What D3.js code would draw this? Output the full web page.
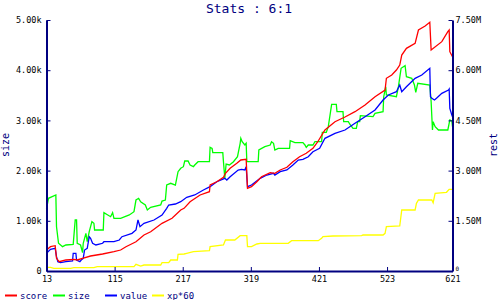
<!DOCTYPE html>
<html>
<head>
<meta charset="utf-8">
<script src="https://cdn.jsdelivr.net/npm/d3@7"></script>
<style>
body { margin: 0; background: #fff; }
svg { display: block; }
text { font-family: "DejaVu Sans Mono", monospace; }
</style>
</head>
<body>
<svg id="chart" width="500" height="300"></svg>
<script>
// tick values
var xTicks = [13, 115, 217, 319, 421, 523, 621];
var sizeTicks = [0, 1000, 2000, 3000, 4000, 5000];
var restTicks = [0, 1.5, 3, 4.5, 6, 7.5]; // millions

var seriesNames = ["score", "size", "value", "xp*60"];
var seriesColors = ["#ff0000", "#00ff00", "#0000ff", "#ffff00"];

// size (left axis)
var sizeData = [[13,1235],[16,1448],[27,1514],[28,882],[31,552],[37,484],[42,518],[53,532],[56,1016],[58,1016],[59,552],[64,518],[67,365],[68,552],[72,751],[74,584],[77,783],[81,982],[84,950],[85,817],[98,817],[99,1161],[109,1082],[112,1161],[114,1050],[124,1050],[137,1116],[144,1181],[147,1414],[151,1448],[154,1380],[161,1315],[164,1215],[169,1269],[184,1315],[186,1394],[191,1414],[193,1713],[199,1747],[206,1713],[210,1978],[214,2046],[218,2078],[220,2191],[225,2191],[228,2112],[233,2078],[235,2112],[240,2177],[257,2177],[258,2464],[261,2444],[262,2357],[277,2357],[278,2177],[280,1847],[282,2131],[287,2112],[293,2177],[299,2277],[303,2544],[304,2643],[306,2576],[310,2510],[312,2544],[313,2177],[330,2177],[331,2410],[340,2476],[348,2510],[350,2576],[353,2544],[355,2410],[360,2444],[377,2444],[378,2596],[385,2556],[397,2556],[400,2510],[402,2464],[405,2510],[412,2510],[415,2576],[425,2576],[426,2763],[432,2763],[435,2875],[440,3320],[447,3320],[448,3174],[457,3174],[458,2975],[465,2975],[467,2928],[472,2842],[477,2842],[479,2975],[482,2975],[483,3094],[502,3074],[505,3141],[517,3174],[518,3472],[521,3671],[522,3506],[537,3472],[540,3671],[544,4038],[550,4090],[552,3870],[560,3839],[564,3705],[566,3560],[569,3739],[587,3705],[589,3372],[591,2809],[592,2975],[595,2875],[600,2809],[614,2809],[617,3008],[620,2988],[621,2875]];

// score, value, xp*60 (right axis, millions)
var scoreData = [[13,0.627],[19,0.726],[26,0.756],[28,0.379],[32,0.278],[42,0.329],[54,0.350],[59,0.329],[67,0.379],[79,0.448],[97,0.508],[114,0.577],[124,0.627],[132,0.726],[147,0.875],[159,1.076],[169,1.174],[186,1.425],[201,1.575],[214,1.823],[219,1.873],[228,2.071],[243,2.271],[257,2.369],[258,2.570],[268,2.668],[278,2.800],[281,2.919],[288,3.069],[298,3.218],[304,3.317],[312,3.338],[314,2.471],[320,2.519],[328,2.668],[335,2.818],[348,2.937],[355,2.919],[363,3.018],[373,3.099],[382,3.266],[392,3.415],[402,3.517],[412,3.666],[419,3.855],[430,4.213],[445,4.461],[460,4.602],[475,4.760],[490,4.960],[505,5.208],[520,5.408],[522,5.758],[530,5.856],[537,6.006],[542,6.155],[545,6.454],[552,6.654],[565,6.804],[570,7.201],[580,7.321],[587,7.431],[589,6.603],[605,6.852],[614,7.150],[616,7.201],[617,6.553],[621,6.403]];

var valueData = [[13,0.529],[19,0.648],[26,0.678],[28,0.427],[30,0.278],[34,0.248],[42,0.278],[52,0.299],[53,0.529],[57,0.529],[58,0.329],[63,0.278],[65,0.329],[68,0.379],[70,0.627],[74,0.678],[77,1.025],[79,0.977],[82,0.828],[87,0.777],[97,0.828],[99,0.875],[114,0.875],[122,0.926],[126,1.025],[141,1.126],[147,1.225],[150,1.524],[153,1.324],[159,1.425],[174,1.524],[186,1.673],[193,1.873],[196,1.972],[206,2.002],[214,2.071],[223,2.202],[235,2.271],[248,2.420],[258,2.519],[268,2.668],[280,2.770],[283,2.719],[288,2.818],[300,3.018],[305,3.039],[310,3.018],[312,3.116],[314,2.519],[320,2.570],[333,2.770],[343,2.868],[353,2.919],[355,2.868],[363,2.967],[373,3.018],[382,3.167],[390,3.317],[397,3.338],[405,3.415],[412,3.565],[422,3.666],[430,3.965],[445,4.114],[460,4.213],[475,4.413],[490,4.610],[505,4.811],[517,5.109],[525,5.259],[537,5.358],[542,5.558],[545,5.358],[552,5.507],[565,5.758],[575,5.856],[587,6.057],[588,5.208],[590,5.160],[594,5.109],[597,5.160],[605,5.310],[615,5.408],[616,5.438],[617,4.861],[620,4.661],[621,4.610]];

var xpData = [[13,0.111],[19,0.111],[24,0.081],[49,0.081],[54,0.099],[84,0.099],[89,0.128],[144,0.128],[147,0.200],[154,0.149],[159,0.179],[184,0.179],[186,0.248],[196,0.248],[199,0.329],[209,0.329],[210,0.499],[219,0.508],[223,0.529],[233,0.577],[257,0.607],[258,0.726],[278,0.777],[281,0.926],[295,0.926],[303,1.055],[313,1.055],[314,0.726],[320,0.726],[328,0.807],[333,0.828],[375,0.828],[380,0.905],[420,0.905],[425,0.977],[427,1.025],[442,1.046],[485,1.055],[487,1.076],[517,1.076],[520,1.126],[522,1.324],[542,1.345],[545,1.823],[565,1.823],[567,2.023],[570,2.121],[590,2.121],[592,2.041],[595,2.322],[612,2.352],[616,2.441],[621,2.441]];

var svg = d3.select('#chart');
var axisColor = '#000080';

var x = d3.scaleLinear().domain([13, 621]).range([46.5, 452.5]);
var yL = d3.scaleLinear().domain([0, 5000]).range([271, 20]);
var yR = d3.scaleLinear().domain([0, 7.5]).range([271, 20]);

// title
svg.append('text').attr('x', 249).attr('y', 13).attr('text-anchor', 'middle')
    .attr('font-size', '13px').attr('fill', axisColor).text('Stats : 6:1');

// lines
var lineL = d3.line().x(function (d) { return x(d[0]); }).y(function (d) { return yL(d[1]); });
var lineR = d3.line().x(function (d) { return x(d[0]); }).y(function (d) { return yR(d[1]); });

var g = svg.append('g');
g.append('path').datum(xpData).attr('d', lineR).attr('fill', 'none').attr('stroke', seriesColors[3]).attr('stroke-width', 1.3);
g.append('path').datum(sizeData).attr('d', lineL).attr('fill', 'none').attr('stroke', seriesColors[1]).attr('stroke-width', 1.3);
g.append('path').datum(valueData).attr('d', lineR).attr('fill', 'none').attr('stroke', seriesColors[2]).attr('stroke-width', 1.3);
g.append('path').datum(scoreData).attr('d', lineR).attr('fill', 'none').attr('stroke', seriesColors[0]).attr('stroke-width', 1.3);

// axes
function fmtK(d) { return d === 0 ? '0' : (d / 1000).toFixed(2) + 'k'; }
function fmtM(d) { return d === 0 ? '0' : d.toFixed(2) + 'M'; }

var ax = svg.append('g').attr('transform', 'translate(0,271)')
    .call(d3.axisBottom(x).tickValues(xTicks).tickSize(-4).tickSizeOuter(0).tickPadding(5));
var ayl = svg.append('g').attr('transform', 'translate(46.5,0)')
    .call(d3.axisLeft(yL).tickValues(sizeTicks).tickFormat(fmtK).tickSize(-4).tickSizeOuter(0).tickPadding(5));
var ayr = svg.append('g').attr('transform', 'translate(452.5,0)')
    .call(d3.axisRight(yR).tickValues(restTicks).tickFormat(fmtM).tickSize(-4).tickSizeOuter(0).tickPadding(3));

[ax, ayl, ayr].forEach(function (a) {
    a.select('.domain').attr('stroke', axisColor).attr('stroke-width', 2);
    a.selectAll('.tick line').attr('stroke', axisColor).attr('stroke-width', 1);
    a.selectAll('.tick text').attr('fill', '#000').attr('font-size', '8.5px')
        .attr('font-family', '"DejaVu Sans Mono", monospace');
});
// the small zero on the right axis sits in the corner, above the 621 label
ayr.selectAll('.tick text').filter(function (d) { return d === 0; })
    .attr('font-size', '6px').attr('dy', '-0.1em');

// axis titles
svg.append('text').attr('transform', 'translate(9,145) rotate(-90)').attr('text-anchor', 'middle')
    .attr('font-size', '10px').attr('fill', axisColor).text('size');
svg.append('text').attr('transform', 'translate(497,145) rotate(-90)').attr('text-anchor', 'middle')
    .attr('font-size', '10px').attr('fill', axisColor).text('rest');

// legend
var legX = [5, 53, 105, 152];
var leg = svg.append('g');
seriesNames.forEach(function (name, i) {
    leg.append('line').attr('x1', legX[i]).attr('x2', legX[i] + 12).attr('y1', 295.5).attr('y2', 295.5)
        .attr('stroke', seriesColors[i]).attr('stroke-width', 2);
    leg.append('text').attr('x', legX[i] + 15).attr('y', 298.5).attr('font-size', '9px')
        .attr('fill', axisColor).text(name);
});
</script>
</body>
</html>
